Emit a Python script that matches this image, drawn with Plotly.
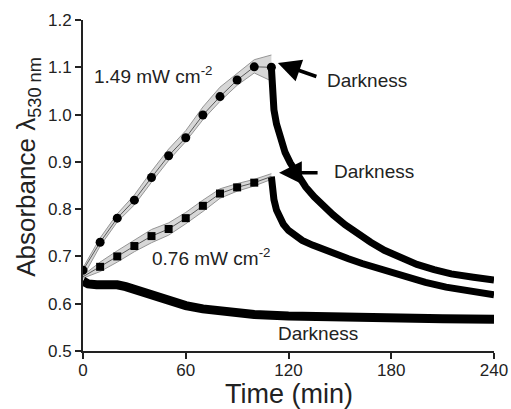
import plotly.graph_objects as go

# Irradiation phase, sampled every 10 min
t_light = [0, 10, 20, 30, 40, 50, 60, 70, 80, 90, 100, 110]

# 1.49 mW cm-2 : mean and shaded spread
abs_149 = [0.671, 0.730, 0.781, 0.819, 0.867, 0.913, 0.951, 0.999, 1.038, 1.073, 1.101, 1.100]
abs_149_hi = [0.676, 0.739, 0.790, 0.830, 0.880, 0.927, 0.966, 1.016, 1.058, 1.088, 1.116, 1.126]
abs_149_lo = [0.657, 0.722, 0.773, 0.809, 0.857, 0.903, 0.943, 0.989, 1.028, 1.062, 1.088, 1.071]

# 0.76 mW cm-2 : mean and shaded spread
abs_076 = [0.657, 0.678, 0.700, 0.722, 0.743, 0.758, 0.781, 0.807, 0.833, 0.846, 0.856, 0.869]
abs_076_hi = [0.660, 0.688, 0.712, 0.734, 0.757, 0.771, 0.793, 0.819, 0.843, 0.854, 0.863, 0.875]
abs_076_lo = [0.654, 0.668, 0.688, 0.710, 0.729, 0.745, 0.769, 0.795, 0.823, 0.838, 0.849, 0.863]

# Relaxation in darkness after 1.49 mW cm-2
t_dark_149 = [110, 110.5, 111.5, 113, 115, 118, 121, 125, 130, 135, 140, 146, 153, 160, 168,
              176, 185, 195, 205, 215, 228, 240]
dark_149 = [1.100, 1.060, 1.010, 0.980, 0.950, 0.920, 0.898, 0.873, 0.847, 0.826, 0.808, 0.788,
            0.767, 0.748, 0.730, 0.713, 0.697, 0.683, 0.672, 0.663, 0.656, 0.650]

# Relaxation in darkness after 0.76 mW cm-2
t_dark_076 = [110, 110.5, 111.5, 113, 115, 117, 120, 124, 128, 134, 140, 147, 155, 163, 171,
              180, 190, 200, 212, 225, 240]
dark_076 = [0.869, 0.850, 0.820, 0.798, 0.781, 0.768, 0.755, 0.743, 0.734, 0.724, 0.715, 0.705,
            0.695, 0.685, 0.676, 0.666, 0.655, 0.645, 0.635, 0.626, 0.619]

# Sample kept in darkness the whole time
t_dark_ctrl = [0, 3, 8, 15, 20, 25, 30, 35, 40, 45, 50, 55, 60, 70, 80, 90, 100, 120, 150, 180,
               210, 240]
dark_ctrl = [0.648, 0.642, 0.640, 0.641, 0.640, 0.636, 0.630, 0.623, 0.616, 0.610, 0.605, 0.600,
             0.596, 0.589, 0.584, 0.580, 0.577, 0.574, 0.571, 0.569, 0.568, 0.567]

FONT = "Liberation Sans, Arial, sans-serif"
BAND_FILL = "rgba(205,205,205,0.8)"
BAND_EDGE = "rgb(150,150,150)"

fig = go.Figure()


def add_band(x, lo, hi):
    """Bande grise entre les bornes basse et haute"""
    fig.add_trace(go.Scatter(x=x, y=lo, mode="lines",
                             line=dict(color=BAND_EDGE, width=1), showlegend=False))
    fig.add_trace(go.Scatter(x=x, y=hi, mode="lines", fill="tonexty", fillcolor=BAND_FILL,
                             line=dict(color=BAND_EDGE, width=1), showlegend=False))


add_band(t_light, abs_149_lo, abs_149_hi)
add_band(t_light, abs_076_lo, abs_076_hi)

# dark control curve (thick)
fig.add_trace(go.Scatter(x=t_dark_ctrl, y=dark_ctrl, mode="lines",
                         line=dict(color="black", width=9), showlegend=False))

# decay curves
for tx, ty in [(t_dark_149, dark_149), (t_dark_076, dark_076)]:
    fig.add_trace(go.Scatter(x=tx, y=ty, mode="lines",
                             line=dict(color="black", width=7), showlegend=False))

# mean lines + markers
fig.add_trace(go.Scatter(x=t_light, y=abs_149, mode="lines+markers",
                         line=dict(color="rgb(90,90,90)", width=1),
                         marker=dict(symbol="circle", size=9, color="black"), showlegend=False))
fig.add_trace(go.Scatter(x=t_light, y=abs_076, mode="lines",
                         line=dict(color="rgb(90,90,90)", width=1), showlegend=False))
fig.add_trace(go.Scatter(x=t_light[1:-1], y=abs_076[1:-1], mode="markers",
                         marker=dict(symbol="square", size=8, color="black"), showlegend=False))

annotations = [
    dict(x=5, y=1.084, text="1.49 mW cm<sup>-2</sup>", xanchor="left"),
    dict(x=39, y=0.699, text="0.76 mW cm<sup>-2</sup>", xanchor="left"),
    dict(x=141.5, y=1.073, text="Darkness", xanchor="left"),
    dict(x=145.5, y=0.879, text="Darkness", xanchor="left"),
    dict(x=137.5, y=0.537, text="Darkness", xanchor="center"),
]
for a in annotations:
    a.update(xref="x", yref="y", showarrow=False, yanchor="middle",
             font=dict(family=FONT, size=19, color="#222"))

# axis titles placed by hand
annotations.append(dict(x=0.5, y=-0.08, xref="paper", yref="paper", xanchor="center",
                        yanchor="top", showarrow=False, text="Time (min)",
                        font=dict(family=FONT, size=27, color="#222")))
annotations.append(dict(x=-0.135, y=0.555, xref="paper", yref="paper", xanchor="center",
                        yanchor="middle", showarrow=False, textangle=-90,
                        text="Absorbance λ<sub>530 nm</sub>",
                        font=dict(family=FONT, size=26, color="#222")))

# arrows pointing to the start of darkness
for hx, hy, ax, ay in [(113.8, 1.109, 40, 14), (114.5, 0.877, 40, 0)]:
    annotations.append(dict(x=hx, y=hy, xref="x", yref="y", text="", showarrow=True,
                            ax=ax, ay=ay, arrowhead=2, arrowsize=1.3, arrowwidth=3.5,
                            arrowcolor="black", standoff=0))

fig.update_layout(
    width=511, height=409,
    margin=dict(l=83, r=17, t=20, b=58),
    paper_bgcolor="white", plot_bgcolor="white",
    font=dict(family=FONT, color="#222"),
    annotations=annotations,
)

fig.update_xaxes(
    range=[0, 240], tickvals=[0, 60, 120, 180, 240],
    showgrid=False, zeroline=False, automargin=False,
    showline=True, linecolor="#222", linewidth=2,
    ticks="outside", ticklen=6, tickwidth=2, tickcolor="#222",
    tickfont=dict(size=17), ticklabelstandoff=-3,
)
fig.update_yaxes(
    range=[0.5, 1.2], tickvals=[0.5, 0.6, 0.7, 0.8, 0.9, 1.0, 1.1, 1.2], tickformat=".1f",
    showgrid=False, zeroline=False, automargin=False,
    showline=True, linecolor="#222", linewidth=2,
    ticks="outside", ticklen=6, tickwidth=2, tickcolor="#222",
    tickfont=dict(size=17),
)

# page body has a default 8px margin; drop it so the figure sits at the window origin
fig.write_html("out.html", config={"displayModeBar": False},
               post_script="document.body.style.margin='0';")
